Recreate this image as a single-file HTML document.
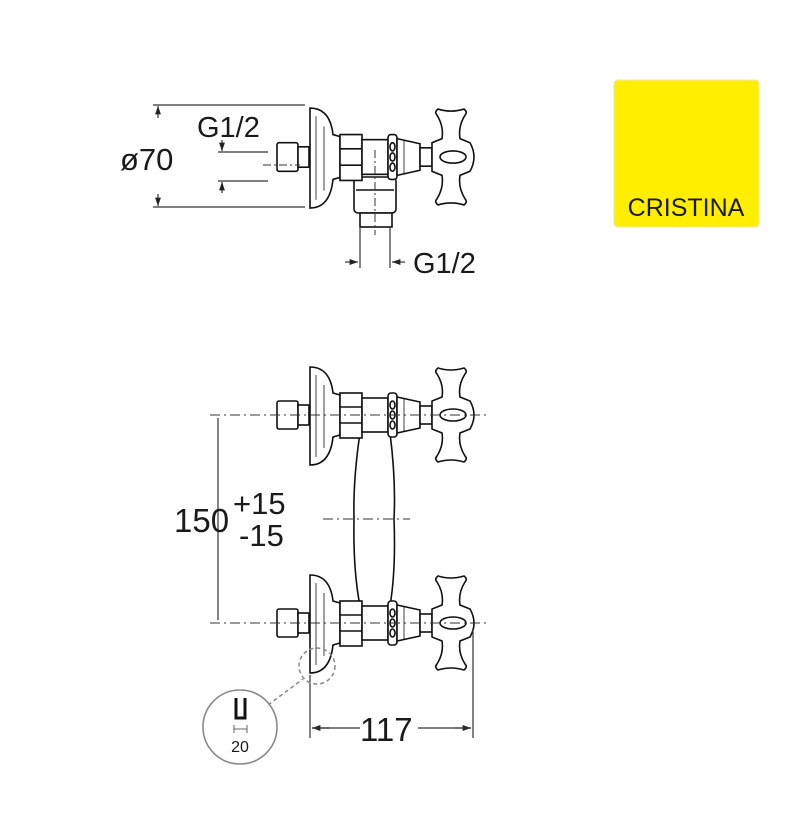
<!DOCTYPE html>
<html><head><meta charset="utf-8"><style>
html,body{margin:0;padding:0;background:#fff;}
svg{display:block;}
text{font-family:"Liberation Sans",sans-serif;fill:#1a1a1a;}
</style></head><body>
<svg width="795" height="819" viewBox="0 0 795 819" xmlns="http://www.w3.org/2000/svg">
<defs>
<marker id="ar" viewBox="0 0 10 10" refX="10" refY="5" markerWidth="9" markerHeight="7" orient="auto-start-reverse"><path d="M0,1.5 L10,5 L0,8.5 z" fill="#222"/></marker>
<g id="valve" fill="#fff" stroke="#111" stroke-width="1.6">
  <rect x="277" y="-14" width="21" height="28" rx="2"/>
  <rect x="298" y="-10" width="11" height="20"/>
  <path d="M310,-48 Q330,-48 333,-22 L340,-20 L340,20 L333,22 Q330,50 310,50 Z"/>
  <line x1="316" y1="-40" x2="316" y2="42" stroke-width="0.8"/>
  <line x1="324" y1="-30" x2="324" y2="33" stroke-width="0.8"/>
  <rect x="340" y="-22" width="22" height="45"/>
  <line x1="340" y1="-8" x2="362" y2="-8"/><line x1="340" y1="8" x2="362" y2="8"/>
  <rect x="362" y="-17" width="26" height="34"/>
  <rect x="388" y="-22" width="9" height="44" rx="3"/>
  <ellipse cx="392.5" cy="-10" rx="2.5" ry="4"/><ellipse cx="392.5" cy="0" rx="2.5" ry="4"/><ellipse cx="392.5" cy="10" rx="2.5" ry="4"/>
  <path d="M397,-18 L420,-13 L420,13 L397,18 Z"/>
  <line x1="404" y1="-16" x2="404" y2="16" stroke-width="0.8"/>
  <rect x="420" y="-9" width="12" height="18"/>
  <path d="M438,-47 Q451,-43 464,-47 Q468,-44 465,-41 Q458,-30 460,-18 L470,-14 Q478,0 470,14 L460,18 Q458,30 465,41 Q468,44 464,47 Q451,43 438,47 Q434,44 437,41 Q444,30 442,18 L432,14 L432,-14 L442,-18 Q444,-30 437,-41 Q434,-44 438,-47 Z"/>
  <ellipse cx="453" cy="0" rx="13" ry="6"/>
</g>
</defs>

<g stroke="#333" stroke-width="1.2" fill="none">
  <line x1="153" y1="105" x2="305" y2="105"/>
  <line x1="153" y1="207" x2="305" y2="207"/>
  <line x1="158" y1="118" x2="158" y2="106" marker-end="url(#ar)"/>
  <line x1="158" y1="194" x2="158" y2="206" marker-end="url(#ar)"/>
  <line x1="218" y1="152" x2="268" y2="152"/>
  <line x1="218" y1="181" x2="268" y2="181"/>
  <line x1="222" y1="140" x2="222" y2="151" marker-end="url(#ar)"/>
  <line x1="222" y1="193" x2="222" y2="182" marker-end="url(#ar)"/>
  <line x1="345" y1="262" x2="358" y2="262" marker-end="url(#ar)"/>
  <line x1="405" y1="262" x2="392" y2="262" marker-end="url(#ar)"/>
  <line x1="360" y1="228" x2="360" y2="268"/>
  <line x1="390" y1="228" x2="390" y2="268"/>
</g>
<text x="120" y="170" font-size="31">ø70</text>
<text x="197" y="137" font-size="29">G1/2</text>
<text x="413" y="273" font-size="29">G1/2</text>
<g fill="#fff" stroke="#111" stroke-width="1.6">
  <rect x="354" y="177" width="42" height="36" rx="4"/>
  <line x1="356" y1="190" x2="394" y2="190"/>
  <rect x="360" y="213" width="32" height="14"/>
</g>
<use href="#valve" transform="translate(0,157) scale(1,1.02)"/>
<line x1="263" y1="165" x2="300" y2="165" stroke="#333" stroke-width="1" stroke-dasharray="8,3,2,3"/>
<line x1="375" y1="150" x2="375" y2="235" stroke="#333" stroke-width="1" stroke-dasharray="8,3,2,3"/>

<path d="M360,433 Q353,480 354,519 Q353,570 360,606 Q375,612 390,606 Q396,570 394,519 Q396,480 390,433 Q375,425 360,433 Z" fill="#fff" stroke="#111" stroke-width="1.6"/>
<use href="#valve" transform="translate(0,415)"/>
<use href="#valve" transform="translate(0,623)"/>
<g stroke="#333" stroke-width="1" stroke-dasharray="10,4,2,4">
  <line x1="210" y1="415" x2="488" y2="415"/>
  <line x1="210" y1="623" x2="488" y2="623"/>
  <line x1="323" y1="519" x2="410" y2="519"/>
</g>
<g stroke="#333" stroke-width="1.2" fill="none">
  <line x1="218" y1="418" x2="218" y2="620"/>
  <line x1="310" y1="675" x2="310" y2="738"/>
  <line x1="473" y1="630" x2="473" y2="738"/>
  <line x1="330" y1="728" x2="312" y2="728" marker-end="url(#ar)"/>
  <line x1="455" y1="728" x2="471" y2="728" marker-end="url(#ar)"/>
  <line x1="312" y1="728" x2="360" y2="728"/>
  <line x1="418" y1="728" x2="471" y2="728"/>
</g>
<text x="174" y="532" font-size="33">150</text>
<text x="233" y="514" font-size="31">+15</text>
<text x="239" y="546" font-size="31">-15</text>
<rect x="360" y="712" width="58" height="32" fill="#fff"/>
<text x="360" y="741" font-size="33">117</text>

<circle cx="317" cy="666" r="18" fill="none" stroke="#888" stroke-width="1.5" stroke-dasharray="4,3"/>
<line x1="268" y1="705" x2="303" y2="679" stroke="#888" stroke-width="1.5" stroke-dasharray="4,3"/>
<circle cx="240" cy="727" r="37" fill="#fff" stroke="#888" stroke-width="1.6"/>
<path d="M236,698 L236,718 L245,718 L245,698" fill="none" stroke="#111" stroke-width="3"/>
<path d="M234,725 L234,733 M247,725 L247,733 M234,729 L247,729" stroke="#666" stroke-width="1" fill="none"/>
<text x="240" y="752" font-size="16" text-anchor="middle" fill="#444">20</text>

<rect x="614" y="80" width="145" height="147" rx="4" fill="#FFEE00" stroke="#f0e8a0" stroke-width="1"/>
<text x="686" y="216" font-size="25" text-anchor="middle" fill="#333">CRISTINA</text>
</svg>
</body></html>
